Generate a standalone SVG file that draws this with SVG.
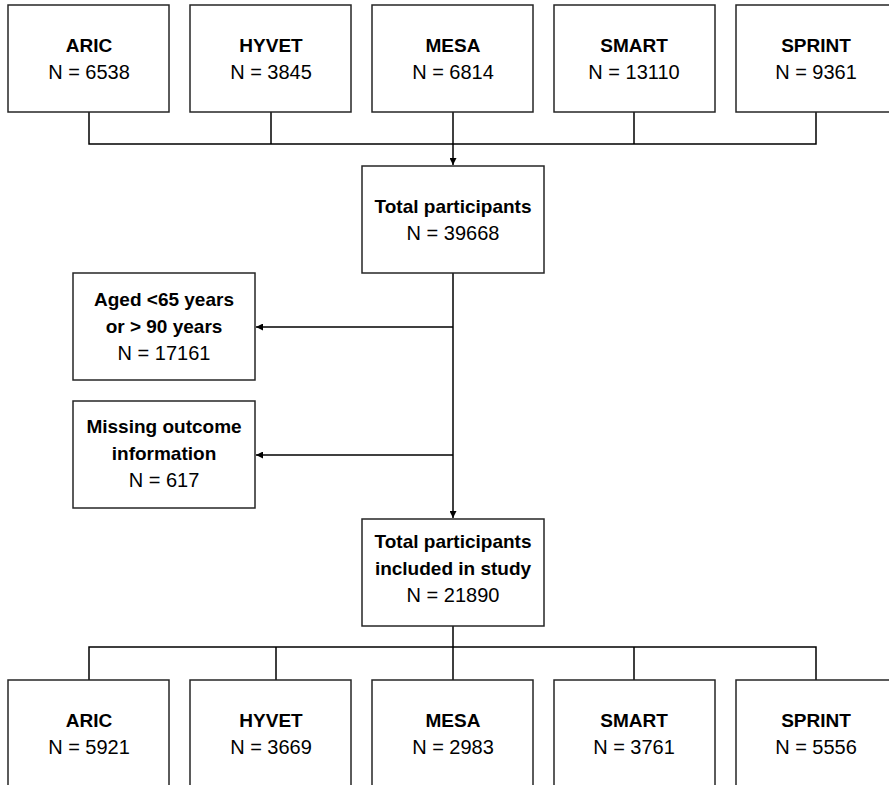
<svg xmlns="http://www.w3.org/2000/svg" width="889" height="785" viewBox="0 0 889 785">
<style>
.box{fill:#fff;stroke:#262626;stroke-width:1.5}
.t{font-family:"Liberation Sans",Arial,sans-serif;font-size:20px;fill:#000;text-anchor:middle}
.b{font-weight:bold;font-size:19px}
.ln{fill:none;stroke:#000;stroke-width:1.5}
</style>
<defs>
<marker id="ah" viewBox="0 0 10 10" refX="10" refY="5" markerWidth="7" markerHeight="7" markerUnits="userSpaceOnUse" orient="auto">
<path d="M0,0 L10,5 L0,10 z" fill="#000"/>
</marker>
</defs>
<rect width="889" height="785" fill="#fff"/>
<g id="connectors">
<path class="ln" d="M89,112 V144 H816 V112 M271,112 V144 M634,112 V144"/>
<path class="ln" d="M453,112 V165" marker-end="url(#ah)"/>
<path class="ln" d="M453,273 V518" marker-end="url(#ah)"/>
<path class="ln" d="M453,327 H256" marker-end="url(#ah)"/>
<path class="ln" d="M453,455 H256" marker-end="url(#ah)"/>
<path class="ln" d="M453,626 V680 M89,680 V647 H816 V680 M276,647 V680 M634,647 V680"/>
</g>
<g id="top-aric"><rect class="box" x="8" y="5" width="161" height="107"/><text class="t b" x="89" y="52">ARIC</text><text class="t" x="89" y="79">N = 6538</text></g>
<g id="top-hyvet"><rect class="box" x="190" y="5" width="161" height="107"/><text class="t b" x="271" y="52">HYVET</text><text class="t" x="271" y="79">N = 3845</text></g>
<g id="top-mesa"><rect class="box" x="372" y="5" width="161" height="107"/><text class="t b" x="453" y="52">MESA</text><text class="t" x="453" y="79">N = 6814</text></g>
<g id="top-smart"><rect class="box" x="554" y="5" width="161" height="107"/><text class="t b" x="634" y="52">SMART</text><text class="t" x="634" y="79">N = 13110</text></g>
<g id="top-sprint"><rect class="box" x="736" y="5" width="161" height="107"/><text class="t b" x="816" y="52">SPRINT</text><text class="t" x="816" y="79">N = 9361</text></g>
<g id="total"><rect class="box" x="362" y="166" width="182" height="107"/><text class="t b" x="453" y="213">Total participants</text><text class="t" x="453" y="240">N = 39668</text></g>
<g id="aged"><rect class="box" x="73" y="273" width="182" height="107"/><text class="t b" x="164" y="306">Aged &lt;65 years</text><text class="t b" x="164" y="333">or &gt; 90 years</text><text class="t" x="164" y="360">N = 17161</text></g>
<g id="missing"><rect class="box" x="73" y="401" width="182" height="107"/><text class="t b" x="164" y="433">Missing outcome</text><text class="t b" x="164" y="460">information</text><text class="t" x="164" y="487">N = 617</text></g>
<g id="included"><rect class="box" x="362" y="519" width="182" height="107"/><text class="t b" x="453" y="548">Total participants</text><text class="t b" x="453" y="575">included in study</text><text class="t" x="453" y="602">N = 21890</text></g>
<g id="bot-aric"><rect class="box" x="8" y="680" width="161" height="107"/><text class="t b" x="89" y="727">ARIC</text><text class="t" x="89" y="754">N = 5921</text></g>
<g id="bot-hyvet"><rect class="box" x="190" y="680" width="161" height="107"/><text class="t b" x="271" y="727">HYVET</text><text class="t" x="271" y="754">N = 3669</text></g>
<g id="bot-mesa"><rect class="box" x="372" y="680" width="161" height="107"/><text class="t b" x="453" y="727">MESA</text><text class="t" x="453" y="754">N = 2983</text></g>
<g id="bot-smart"><rect class="box" x="554" y="680" width="161" height="107"/><text class="t b" x="634" y="727">SMART</text><text class="t" x="634" y="754">N = 3761</text></g>
<g id="bot-sprint"><rect class="box" x="736" y="680" width="161" height="107"/><text class="t b" x="816" y="727">SPRINT</text><text class="t" x="816" y="754">N = 5556</text></g>
</svg>
